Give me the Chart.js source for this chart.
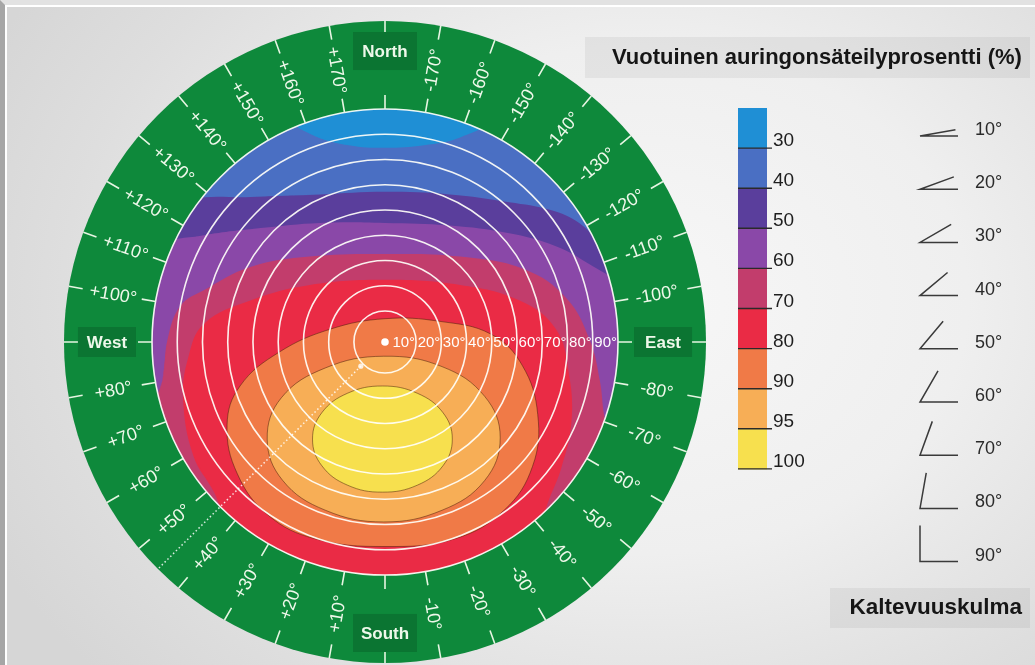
<!DOCTYPE html>
<html>
<head>
<meta charset="utf-8">
<script src="https://cdn.jsdelivr.net/npm/chart.js@4.4.1/dist/chart.umd.min.js"></script>
<style>
html,body{margin:0;padding:0;}
body{width:1035px;height:665px;overflow:hidden;position:relative;
  background:radial-gradient(ellipse 70% 85% at 62% 45%, #f7f7f7 0%, #efefef 45%, #dedede 80%, #d6d6d6 100%);}
#frame{position:absolute;left:0;top:0;width:1035px;height:665px;box-sizing:border-box;border-left:5px solid #a6a6a6;border-top:5px solid #e2e2e2;pointer-events:none;}
#frame2{position:absolute;left:5px;top:5px;width:1030px;height:660px;box-sizing:border-box;border-left:2px solid #fff;border-top:2px solid #fff;pointer-events:none;}
canvas{position:absolute;left:0;top:0;}
</style>
</head>
<body>
<canvas id="c" width="1035" height="665"></canvas>
<div id="frame"></div><div id="frame2"></div>
<script>
// ---------- data ----------
const levels = [30, 40, 50, 60, 70, 80, 90, 95, 100];
const levelColors = ['#1f8fd5', '#4a6fc3', '#5a3e9c', '#8a48a8', '#c23d6c', '#ea2b45', '#f07a47', '#f7ae56', '#f7e04e'];

// contour boundaries (x: east +, y: north +; disc radius = 90)
const contour30 = [[-36,86],[-28,80],[-14,76],[0,75],[15,76],[29,79],[40,86],[35,99],[0,101],[-35,99]];
const contour50 = [[-75,55],[-52,56],[-25,57],[0,58],[25,57],[48,54],[64,51],[75,46],[85,37],[102,28],[118,0],[118,-60],[95,-105],[0,-118],[-95,-105],[-118,-60],[-118,0],[-100,45]];
const contour60 = [[-87,37],[-71,41],[-48,44],[-25,46],[0,46],[25,45],[48,42],[66,37],[79,30],[93,20],[112,-10],[112,-60],[90,-105],[0,-116],[-90,-105],[-112,-60],[-112,-10],[-100,20]];
const contour70 = [[-91,-30],[-86,-15],[-84,1],[-79,14],[-70,20],[-52,29],[-29,33],[0,34],[29,33],[54,28],[70,17],[79,1],[83,-15],[85,-30],[89,-42],[100,-80],[60,-112],[0,-116],[-60,-112],[-100,-80]];
const contour80 = [[-58,-76],[-66,-58],[-74,-44],[-78,-22],[-76,-6],[-70,7],[-52,16],[-29,22],[0,24],[29,22],[52,16],[66,5],[71,-12],[72,-31],[68,-49],[62,-65],[60,-78],[33,-96],[0,-100],[-33,-96]];
const contour90 = [[0,-79],[-27,-76],[-45,-67],[-57,-51],[-61,-32],[-56,-17],[-41,-4],[-21,5],[0,9],[21,8],[41,3],[53,-9],[59,-28],[57,-48],[46,-65],[27,-76]];
const contour95 = [[-0.5,-69.5],[-23,-65],[-39.5,-53.5],[-45.5,-37.5],[-40,-21.5],[-23,-10],[-0.5,-5.5],[22,-9.5],[38.5,-21],[44.5,-37],[38.5,-53.5],[22,-65]];
const contour100 = [[-1,-58],[-14.5,-55.3],[-24.4,-47.8],[-28,-37.5],[-24.4,-27.3],[-14.5,-19.8],[-1,-17],[12.5,-19.8],[22.4,-27.3],[26,-37.5],[22.4,-47.8],[12.5,-55.3]];

const tiltAngles = [10, 20, 30, 40, 50, 60, 70, 80, 90];
const tiltLabels = ['10°','20°','30°','40°','50°','60°','70°','80°','90°'];

const ringAngles = [0,10,20,30,40,50,60,70,80,90,100,110,120,130,140,150,160,170,180,-170,-160,-150,-140,-130,-120,-110,-100,-90,-80,-70,-60,-50,-40,-30,-20,-10];
const ringLabels = ['South','+10°','+20°','+30°','+40°','+50°','+60°','+70°','+80°','West','+100°','+110°','+120°','+130°','+140°','+150°','+160°','+170°','North','-170°','-160°','-150°','-140°','-130°','-120°','-110°','-100°','East','-80°','-70°','-60°','-50°','-40°','-30°','-20°','-10°'];
const markerAzimuth = 45;

const titleText = 'Vuotuinen auringonsäteilyprosentti (%)';
const tiltTitle = 'Kaltevuuskulma';

// ---------- layout ----------
const W = 1035, H = 665;
const CX = 385, CY = 342, PX_PER_UNIT = 233 / 90;
const DISC_R = 90, RING_OUTER = 124, LABEL_R = 106.6, NS_R = 112.4, EW_R = 107.4, TICK_PX = 14;
const FONT = '"Liberation Sans", Arial, Helvetica, sans-serif';
function tiltRadius(t) { return 2.25 + 0.975 * t; }

const contourSeries = [
  {level: 30, pts: contour30},
  {level: 50, pts: contour50},
  {level: 60, pts: contour60},
  {level: 70, pts: contour70},
  {level: 80, pts: contour80},
  {level: 90, pts: contour90},
  {level: 95, pts: contour95},
  {level: 100, pts: contour100}
];

const datasets = contourSeries.map((s, rank) => {
  const idx = levels.indexOf(s.level);
  // close the loop smoothly: repeat the first three points; the two end segments are not stroked
  const pts = s.pts.concat([s.pts[0], s.pts[1], s.pts[2]]).map(([x, y]) => ({x, y}));
  const last = pts.length - 1;
  const inner = s.level >= 90;
  return {
    label: s.level + ' %',
    data: pts,
    fill: 'shape',
    backgroundColor: levelColors[idx],
    borderColor: inner ? 'rgba(70,30,10,0.5)' : 'rgba(0,0,0,0)',
    borderWidth: inner ? 1 : 0,
    segment: {
      borderColor: c => ((c.p0DataIndex === 0 || c.p1DataIndex === last) ? 'rgba(0,0,0,0)' : undefined)
    },
    pointRadius: 0,
    tension: 0.4,
    order: contourSeries.length - rank
  };
});

function geom(chart) {
  const xs = chart.scales.x, ys = chart.scales.y;
  const cx = xs.getPixelForValue(0), cy = ys.getPixelForValue(0);
  const k = xs.getPixelForValue(1) - cx;
  return {cx, cy, k};
}

const diagramPlugin = {
  id: 'diagram',
  beforeDatasetsDraw(chart) {
    const ctx = chart.ctx, g = geom(chart);
    ctx.save();
    ctx.beginPath(); ctx.arc(g.cx, g.cy, RING_OUTER * g.k, 0, Math.PI * 2);
    ctx.fillStyle = '#0e893b'; ctx.fill();
    ctx.beginPath(); ctx.arc(g.cx, g.cy, DISC_R * g.k, 0, Math.PI * 2);
    ctx.fillStyle = levelColors[1]; ctx.fill();
    ctx.restore();
    ctx.save();
    ctx.beginPath(); ctx.arc(g.cx, g.cy, DISC_R * g.k, 0, Math.PI * 2);
    ctx.clip();
  },
  afterDatasetsDraw(chart) {
    const ctx = chart.ctx, g = geom(chart);
    ctx.restore();

    // tilt circles
    ctx.save();
    ctx.strokeStyle = 'rgba(255,255,250,0.92)';
    ctx.lineWidth = 1.6;
    tiltAngles.forEach(t => {
      ctx.beginPath(); ctx.arc(g.cx, g.cy, tiltRadius(t) * g.k, 0, Math.PI * 2); ctx.stroke();
    });
    ctx.restore();

    // dotted azimuth marker
    ctx.save();
    const mr = markerAzimuth * Math.PI / 180;
    const mdx = -Math.sin(mr), mdy = Math.cos(mr);
    const r0 = (tiltRadius(10) + 1.2) * g.k, r1 = RING_OUTER * g.k;
    ctx.strokeStyle = 'rgba(255,255,255,0.85)'; ctx.lineWidth = 1.5; ctx.setLineDash([1.5, 2.5]);
    ctx.beginPath(); ctx.moveTo(g.cx + mdx * r0, g.cy + mdy * r0); ctx.lineTo(g.cx + mdx * r1, g.cy + mdy * r1); ctx.stroke();
    ctx.setLineDash([]);
    ctx.fillStyle = 'rgba(255,255,255,0.8)';
    ctx.beginPath(); ctx.arc(g.cx + mdx * r0, g.cy + mdy * r0, 2.6, 0, Math.PI * 2); ctx.fill();
    ctx.fillStyle = '#ffffff';
    ctx.beginPath(); ctx.arc(g.cx, g.cy, 3.8, 0, Math.PI * 2); ctx.fill();
    ctx.restore();

    // tilt labels along east axis
    ctx.save();
    ctx.fillStyle = '#ffffff';
    ctx.font = '15px ' + FONT;
    ctx.textAlign = 'right'; ctx.textBaseline = 'middle';
    tiltAngles.forEach((t, i) => {
      ctx.fillText(tiltLabels[i], g.cx + tiltRadius(t) * g.k - 1, g.cy + 1);
    });
    ctx.restore();

    // ring ticks and labels
    ctx.save();
    const rIn = DISC_R * g.k, rOut = RING_OUTER * g.k;
    ringAngles.forEach((a, i) => {
      const rad = a * Math.PI / 180;
      const dx = -Math.sin(rad), dy = Math.cos(rad);
      ctx.strokeStyle = '#e6f5e2'; ctx.lineWidth = 1.6;
      ctx.beginPath();
      ctx.moveTo(g.cx + dx * rIn, g.cy + dy * rIn);
      ctx.lineTo(g.cx + dx * (rIn + TICK_PX), g.cy + dy * (rIn + TICK_PX));
      ctx.moveTo(g.cx + dx * (rOut - TICK_PX), g.cy + dy * (rOut - TICK_PX));
      ctx.lineTo(g.cx + dx * rOut, g.cy + dy * rOut);
      ctx.stroke();
      const lbl = ringLabels[i];
      const compass = (a % 90 === 0);
      if (compass) {
        const ns = (a === 0 || a === 180);
        const r = (ns ? NS_R : EW_R) * g.k;
        const tx = g.cx + dx * r, ty = g.cy + dy * r;
        const bw = ns ? 64 : 58, bh = ns ? 38 : 30;
        ctx.fillStyle = '#0b7532';
        ctx.fillRect(tx - bw / 2, ty - bh / 2, bw, bh);
        ctx.fillStyle = '#eef8ea';
        ctx.font = 'bold 17px ' + FONT;
        ctx.textAlign = 'center'; ctx.textBaseline = 'middle';
        ctx.fillText(lbl, tx, ty + 1);
      } else {
        const r = LABEL_R * g.k;
        const tx = g.cx + dx * r, ty = g.cy + dy * r;
        const rot = a > 0 ? Math.atan2(-dy, -dx) : Math.atan2(dy, dx);
        ctx.save();
        ctx.translate(tx, ty); ctx.rotate(rot);
        ctx.fillStyle = '#eef8ea';
        ctx.font = '18px ' + FONT;
        ctx.textAlign = 'center'; ctx.textBaseline = 'middle';
        ctx.fillText(lbl, 0, 1);
        ctx.restore();
      }
    });
    ctx.restore();

    // ---------- legend panel ----------
    ctx.save();
    ctx.fillStyle = 'rgba(0,0,0,0.05)';
    ctx.fillRect(585, 37, 445, 41);
    ctx.fillStyle = '#161616';
    ctx.font = 'bold 22px ' + FONT;
    ctx.textAlign = 'left'; ctx.textBaseline = 'middle';
    ctx.fillText(titleText, 612, 58);

    const barX = 738, barW = 29, barTop = 108, segH = 40.1;
    levels.forEach((lv, i) => {
      ctx.fillStyle = levelColors[i];
      ctx.fillRect(barX, barTop + i * segH, barW, segH + 0.5);
    });
    ctx.strokeStyle = '#2a2a2a'; ctx.lineWidth = 1.4;
    ctx.fillStyle = '#1e1e1e';
    ctx.font = '19px ' + FONT;
    ctx.textAlign = 'left'; ctx.textBaseline = 'alphabetic';
    levels.forEach((lv, i) => {
      const ly = barTop + (i + 1) * segH;
      ctx.beginPath(); ctx.moveTo(barX, ly); ctx.lineTo(barX + 34, ly); ctx.stroke();
      ctx.fillText(String(lv), barX + 35, ly - 2);
    });

    const iconX = 920, baseLen = 38, armLen = 36, rowTop = 130, rowH = 53.2;
    ctx.strokeStyle = '#3a3a3a'; ctx.lineWidth = 1.5;
    ctx.fillStyle = '#2a2a2a';
    ctx.font = '18px ' + FONT;
    ctx.textBaseline = 'middle';
    tiltAngles.forEach((t, i) => {
      const y = rowTop + i * rowH;
      const by = y + 6;
      const tr = t * Math.PI / 180;
      ctx.beginPath();
      ctx.moveTo(iconX + baseLen, by); ctx.lineTo(iconX, by);
      ctx.lineTo(iconX + armLen * Math.cos(tr), by - armLen * Math.sin(tr));
      ctx.stroke();
      ctx.fillText(tiltLabels[i], 975, y);
    });

    ctx.fillStyle = 'rgba(0,0,0,0.05)';
    ctx.fillRect(830, 588, 200, 40);
    ctx.fillStyle = '#161616';
    ctx.font = 'bold 22.5px ' + FONT;
    ctx.textAlign = 'right';
    ctx.fillText(tiltTitle, 1022, 608);
    ctx.restore();
  }
};

new Chart(document.getElementById('c'), {
  type: 'line',
  data: {datasets},
  options: {
    responsive: false,
    animation: false,
    devicePixelRatio: 1,
    events: [],
    layout: {padding: 0},
    plugins: {legend: {display: false}, tooltip: {enabled: false}, title: {display: false}},
    scales: {
      x: {type: 'linear', min: -CX / PX_PER_UNIT, max: (W - CX) / PX_PER_UNIT, display: false},
      y: {type: 'linear', min: -(H - CY) / PX_PER_UNIT, max: CY / PX_PER_UNIT, display: false}
    }
  },
  plugins: [diagramPlugin]
});
</script>
</body>
</html>
